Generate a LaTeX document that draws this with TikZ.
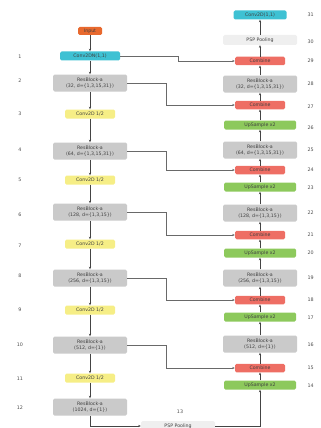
\documentclass[tikz,border=0pt]{standalone}
\usepackage{fontspec}
\setmainfont{DejaVu Sans}
\usetikzlibrary{arrows.meta}
\definecolor{cin}{HTML}{E8692E}
\definecolor{ccyan}{HTML}{3EC1D3}
\definecolor{cres}{HTML}{CACACA}
\definecolor{cconv}{HTML}{F6EE86}
\definecolor{ccomb}{HTML}{EE6E64}
\definecolor{cup}{HTML}{8DC95C}
\definecolor{cpsp}{HTML}{EFEFEF}
\definecolor{cline}{HTML}{444444}
\begin{document}
\begin{tikzpicture}[x=1pt,y=-1pt,
  every node/.style={font=\fontsize{4.7}{5.6}\selectfont, text=black!75},
  box/.style={rounded corners=1.5pt, inner sep=0pt, align=center},
  inbox/.style={box, fill=cin, minimum width=24pt, minimum height=8pt},
  cyanbox/.style={box, fill=ccyan, minimum width=60pt, minimum height=9pt},
  resbox/.style={box, fill=cres, minimum width=74pt, minimum height=17pt},
  convbox/.style={box, fill=cconv, minimum width=50pt, minimum height=9pt},
  combbox/.style={box, fill=ccomb, minimum width=50pt, minimum height=8.5pt},
  upbox/.style={box, fill=cup, minimum width=72pt, minimum height=9pt},
  pspbox/.style={box, fill=cpsp, minimum width=74pt, minimum height=10pt},
  num/.style={font=\fontsize{4.8}{5.6}\selectfont, text=black!70},
  arr/.style={draw=cline, line width=0.6pt, -{Stealth[length=2.6pt,width=2.2pt]}},
  skip/.style={draw=cline!80, line width=0.45pt, -{Stealth[length=2.6pt,width=2.2pt]}}]
\useasboundingbox (0,0) rectangle (321,428);
% left column
\node[inbox]  (in)  at (90,31)  {Input};
\node[cyanbox] (L1) at (90,56)  {Conv2DN(1,1)};
\node[resbox] (L2)  at (90,83)  {ResBlock-a\\(32, d=\{1,3,15,31\})};
\node[convbox] (L3) at (90,114) {Conv2D 1/2};
\node[resbox] (L4)  at (90,151) {ResBlock-a\\(64, d=\{1,3,15,31\})};
\node[convbox] (L5) at (90,180) {Conv2D 1/2};
\node[resbox] (L6)  at (90,212) {ResBlock-a\\(128, d=\{1,3,15\})};
\node[convbox] (L7) at (90,244) {Conv2D 1/2};
\node[resbox] (L8)  at (90,278) {ResBlock-a\\(256, d=\{1,3,15\})};
\node[convbox] (L9) at (90,310) {Conv2D 1/2};
\node[resbox] (L10) at (90,345) {ResBlock-a\\(512, d=\{1\})};
\node[convbox] (L11) at (90,378) {Conv2D 1/2};
\node[resbox] (L12) at (90,407) {ResBlock-a\\(1024, d=\{1\})};
\node[pspbox] (P13) at (178,426) {PSP Pooling};
% right column
\node[cyanbox, minimum width=53pt] (R31) at (260,15) {Conv2D(1,1)};
\node[pspbox] (R30) at (260,40)  {PSP Pooling};
\node[combbox] (R29) at (260,61) {Combine};
\node[resbox] (R28) at (260,84)  {ResBlock-a\\(32, d=\{1,3,15,31\})};
\node[combbox] (R27) at (260,105) {Combine};
\node[upbox] (R26) at (260,125) {UpSample x2};
\node[resbox] (R25) at (260,150) {ResBlock-a\\(64, d=\{1,3,15,31\})};
\node[combbox] (R24) at (260,170) {Combine};
\node[upbox] (R23) at (260,187) {UpSample x2};
\node[resbox] (R22) at (260,213) {ResBlock-a\\(128, d=\{1,3,15\})};
\node[combbox] (R21) at (260,235) {Combine};
\node[upbox] (R20) at (260,253) {UpSample x2};
\node[resbox] (R19) at (260,278) {ResBlock-a\\(256, d=\{1,3,15\})};
\node[combbox] (R18) at (260,300) {Combine};
\node[upbox] (R17) at (260,317) {UpSample x2};
\node[resbox] (R16) at (260,344) {ResBlock-a\\(512, d=\{1\})};
\node[combbox] (R15) at (260,368) {Combine};
\node[upbox] (R14) at (260,385) {UpSample x2};
% numbers
\foreach \n/\y in {1/57,2/81,3/114,4/150,5/180,6/215,7/246,8/276,9/310,10/345,11/379,12/408}
  \node[num] (nl\n) at (20,\y) {\n};
\node[num] (nl13) at (180,412) {13};
\foreach \n/\y in {31/15,30/42,29/61,28/84,27/107,26/128,25/150,24/170,23/188,22/213,21/235,20/253,19/278,18/300,17/318,16/345,15/368,14/386}
  \node[num, anchor=west] (nr\n) at (304,\y) {\n};
% routing helpers
\coordinate (k1) at (178,0);
\coordinate (k2) at (166,0);
% left arrows
\foreach \a/\b in {in/L1,L1/L2,L2/L3,L3/L4,L4/L5,L5/L6,L6/L7,L7/L8,L8/L9,L9/L10,L10/L11,L11/L12}
  \draw[arr] (\a.south) -- (\b.north);
% right arrows
\foreach \a/\b in {R14/R15,R15/R16,R16/R17,R17/R18,R18/R19,R19/R20,R20/R21,R21/R22,R22/R23,R23/R24,R24/R25,R25/R26,R26/R27,R27/R28,R28/R29,R29/R30,R30/R31}
  \draw[arr] (\a.north) -- (\b.south);
% bottom
\draw[arr] (L12.south) |- (P13.west);
\draw[arr] (P13.east) -| (R14.south);
% skips
\draw[skip] (L1.east) -- (L1.east -| k1) |- (R29.west);
\foreach \a/\b in {L2/R27,L4/R24,L6/R21,L8/R18,L10/R15}
  \draw[skip] (\a.east) -- (\a.east -| k2) |- (\b.west);
\end{tikzpicture}
\end{document}
